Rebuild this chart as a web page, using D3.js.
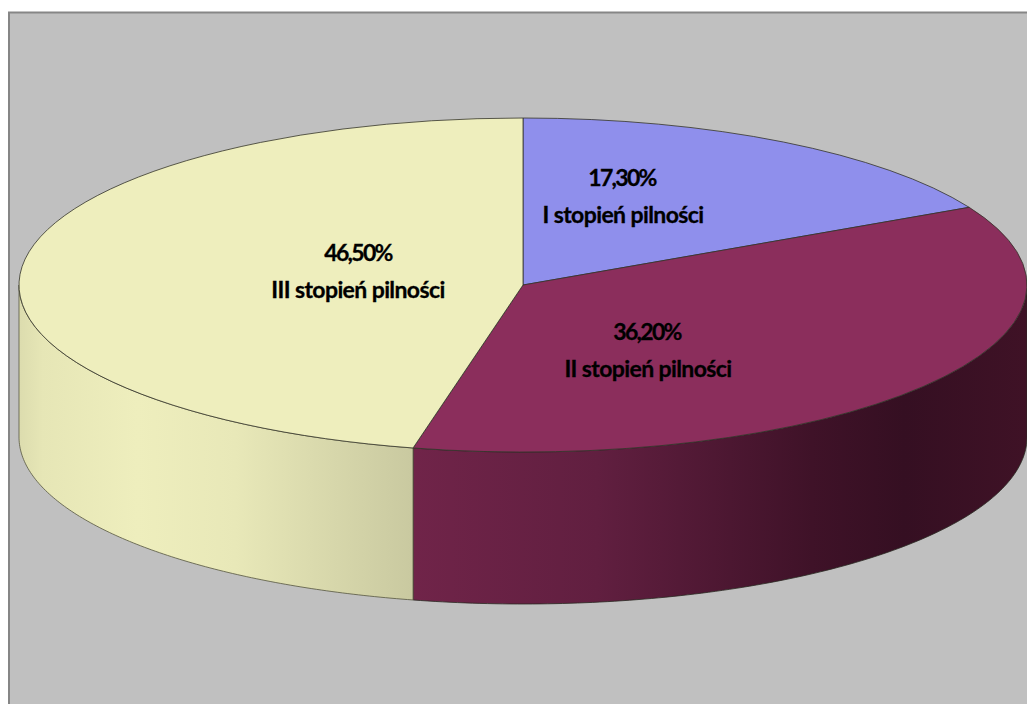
<!DOCTYPE html>
<html lang="pl">
<head>
<meta charset="utf-8">
<script src="https://cdn.jsdelivr.net/npm/d3@7"></script>
<style>
  html, body { margin: 0; padding: 0; background: #fff; overflow: hidden; }
  svg { display: block; }
  text { font-family: Lato, "Liberation Sans", sans-serif; font-weight: bold; font-size: 23px; fill: #000; stroke: #000; stroke-width: 0.3px; text-anchor: middle; letter-spacing: -0.6px; }
  text.share { letter-spacing: -1.7px; }
</style>
</head>
<body>
<div id="chart"></div>
<script>
const categories = ['I stopień pilności', 'II stopień pilności', 'III stopień pilności'];
const shares = [17.3, 36.2, 46.5];
const shareLabels = ['17,30%', '36,20%', '46,50%'];
const topColors = ['#8f8fec', '#8b2e5c', '#eeeebd'];
const labelSpots = [[622, 186], [647, 340], [358, 261]];

const width = 1027;
const height = 704;
const cx = 523;
const cy = 285;
const rx = 504;
const ry = 167;
const depth = 152;

const svg = d3.select('#chart').append('svg')
  .attr('width', width)
  .attr('height', height)
  .attr('viewBox', `0 0 ${width} ${height}`);

svg.append('rect').attr('width', width).attr('height', height).attr('fill', '#fff');
svg.append('rect')
  .attr('x', 9).attr('y', 12.5)
  .attr('width', width + 10).attr('height', height + 10)
  .attr('fill', '#c0c0c0')
  .attr('stroke', '#868686')
  .attr('stroke-width', 2);

// side wall gradients, stops follow the x position of the rim
const defs = svg.append('defs');
const addGradient = (id, x1, x2, stops) => {
  const g = defs.append('linearGradient')
    .attr('id', id)
    .attr('gradientUnits', 'userSpaceOnUse')
    .attr('x1', x1).attr('x2', x2).attr('y1', 0).attr('y2', 0);
  stops.forEach(s => g.append('stop').attr('offset', s[0]).attr('stop-color', s[1]));
};
addGradient('sideYellow', 19, 413, [[0, '#dcdcae'], [0.06, '#e6e6b6'], [0.3, '#eeeebd'], [0.55, '#e8e8b8'], [1, '#c9c9a0']]);
addGradient('sideMaroon', 413, 1027, [[0, '#702449'], [0.3, '#611f40'], [0.65, '#3f1228'], [0.8, '#350f22'], [1, '#3f1226']]);

const pie = d3.pie().sort(null).value(d => d);
const slices = pie(shares);

const rimPoint = (a, dy) => [cx + rx * Math.sin(a), cy - ry * Math.cos(a) + dy];
const rimLine = d3.line();

// wall for the visible part of a slice, only the front half (90 to 270 deg) shows
const wallPath = (a0, a1) => {
  const from = Math.max(a0, Math.PI / 2);
  const to = Math.min(a1, Math.PI * 1.5);
  const angles = d3.range(0, 121).map(i => from + (to - from) * i / 120);
  const upper = angles.map(a => rimPoint(a, 0));
  const lower = angles.map(a => rimPoint(a, depth)).reverse();
  return rimLine(upper.concat(lower)) + 'Z';
};

const walls = svg.append('g');
walls.append('path')
  .attr('d', wallPath(slices[1].startAngle, slices[1].endAngle))
  .attr('fill', 'url(#sideMaroon)')
  .attr('stroke', '#2a2a22')
  .attr('stroke-width', 0.8);
walls.append('path')
  .attr('d', wallPath(slices[2].startAngle, slices[2].endAngle))
  .attr('fill', 'url(#sideYellow)')
  .attr('stroke', '#55553f')
  .attr('stroke-width', 0.8);

// top face: d3.arc on a circle, flattened to the ellipse
const arc = d3.arc().innerRadius(0).outerRadius(rx);
svg.append('g')
  .attr('transform', `translate(${cx},${cy}) scale(1,${ry / rx})`)
  .selectAll('path')
  .data(slices)
  .join('path')
  .attr('d', arc)
  .attr('fill', (d, i) => topColors[i])
  .attr('stroke', '#33332a')
  .attr('stroke-width', 0.8)
  .attr('vector-effect', 'non-scaling-stroke');

const labels = svg.append('g');
categories.forEach((name, i) => {
  const [x, y] = labelSpots[i];
  labels.append('text').attr('class', 'share').attr('x', x).attr('y', y).text(shareLabels[i]);
  labels.append('text').attr('x', x + (i === 2 ? 0 : 1)).attr('y', y + 36.5).text(name);
});
</script>
</body>
</html>
